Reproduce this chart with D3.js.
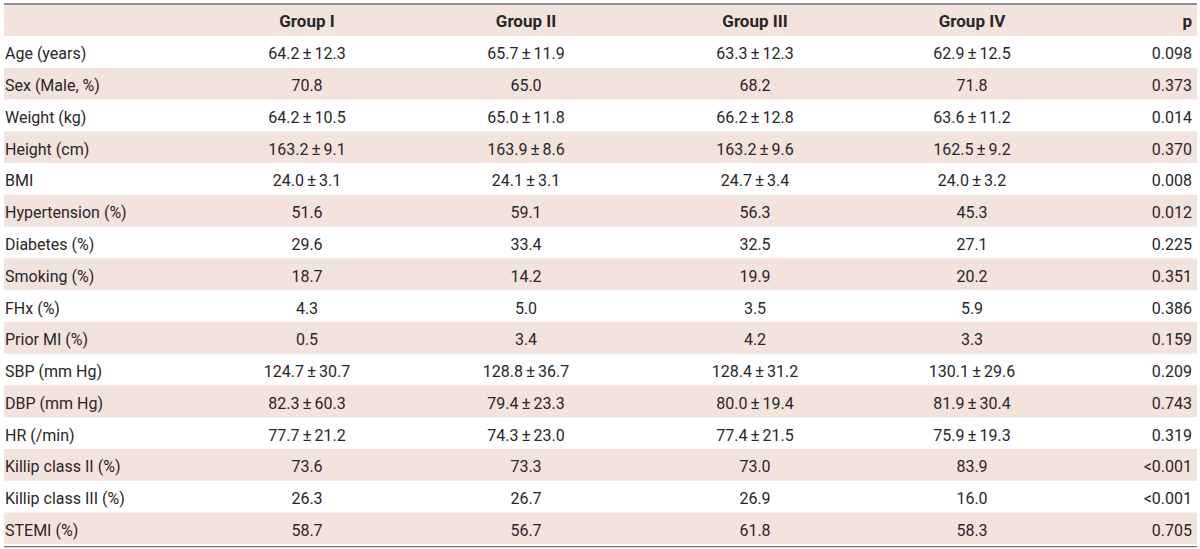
<!DOCTYPE html>
<html><head><meta charset="utf-8">
<script src="https://cdn.jsdelivr.net/npm/d3@7"></script>
<style>
html,body{margin:0;padding:0;background:#fff;}
svg{display:block;}
</style>
</head><body>
<svg id="chart" width="1200" height="549"></svg>
<script>
const headers = ["", "Group I", "Group II", "Group III", "Group IV", "p"];
const rowLabels = ["Age (years)", "Sex (Male, %)", "Weight (kg)", "Height (cm)", "BMI", "Hypertension (%)", "Diabetes (%)", "Smoking (%)", "FHx (%)", "Prior MI (%)", "SBP (mm Hg)", "DBP (mm Hg)", "HR (/min)", "Killip class II (%)", "Killip class III (%)", "STEMI (%)"];
const groupI = ["64.2±12.3", "70.8", "64.2±10.5", "163.2±9.1", "24.0±3.1", "51.6", "29.6", "18.7", "4.3", "0.5", "124.7±30.7", "82.3±60.3", "77.7±21.2", "73.6", "26.3", "58.7"];
const groupII = ["65.7±11.9", "65.0", "65.0±11.8", "163.9±8.6", "24.1±3.1", "59.1", "33.4", "14.2", "5.0", "3.4", "128.8±36.7", "79.4±23.3", "74.3±23.0", "73.3", "26.7", "56.7"];
const groupIII = ["63.3±12.3", "68.2", "66.2±12.8", "163.2±9.6", "24.7±3.4", "56.3", "32.5", "19.9", "3.5", "4.2", "128.4±31.2", "80.0±19.4", "77.4±21.5", "73.0", "26.9", "61.8"];
const groupIV = ["62.9±12.5", "71.8", "63.6±11.2", "162.5±9.2", "24.0±3.2", "45.3", "27.1", "20.2", "5.9", "3.3", "130.1±29.6", "81.9±30.4", "75.9±19.3", "83.9", "16.0", "58.3"];
const pValues = ["0.098", "0.373", "0.014", "0.370", "0.008", "0.012", "0.225", "0.351", "0.386", "0.159", "0.209", "0.743", "0.319", "<0.001", "<0.001", "0.705"];

const svg = d3.select("#chart");
const left = 4, right = 1197;
const font = "Roboto, 'Noto Sans', sans-serif";
const textColor = "#2a2627";
const pink = "#f3e3dd";
const fs = 16;

const y = d3.scaleBand().domain(d3.range(rowLabels.length)).range([36, 544.3]).padding(0);
const headerTop = 4, headerBottom = 36;

const groups = [groupI, groupII, groupIII, groupIV];
const colCenters = d3.scaleOrdinal().domain([0,1,2,3]).range([307, 526, 755, 972]);

// header band
svg.append("rect").attr("x", left).attr("y", headerTop).attr("width", right-left).attr("height", headerBottom-headerTop).attr("fill", pink);
// stripes
svg.selectAll("rect.stripe").data(d3.range(rowLabels.length).filter(i => i % 2 === 1)).join("rect")
  .attr("class","stripe").attr("x", left).attr("y", i => y(i)).attr("width", right-left).attr("height", y.bandwidth()).attr("fill", pink);

// lines
svg.append("line").attr("x1", left).attr("x2", right).attr("y1", 4).attr("y2", 4).attr("stroke", "#6d6e71").attr("stroke-width", 1.3);
svg.append("line").attr("x1", left).attr("x2", right).attr("y1", 546.7).attr("y2", 546.7).attr("stroke", "#6d6e71").attr("stroke-width", 1.3);

// header texts
const hBase = 26.5;
[1,2,3,4].forEach((h,k) => {
  svg.append("text").attr("x", colCenters(k)).attr("y", hBase).attr("text-anchor","middle")
    .attr("font-family", font).attr("font-size", 17).attr("font-weight", "bold").attr("fill", textColor).text(headers[h]);
});
svg.append("text").attr("x", 1192).attr("y", hBase).attr("text-anchor","end")
  .attr("font-family", font).attr("font-size", 17).attr("font-weight", "bold").attr("fill", textColor).text(headers[5]);

const rows = svg.selectAll("g.row").data(d3.range(rowLabels.length)).join("g").attr("class","row")
  .attr("transform", i => `translate(0,${y(i)+y.bandwidth()/2 + 7.5})`);
rows.append("text").attr("x", 5).attr("font-family", font).attr("font-size", fs).attr("fill", textColor)
  .text(i => rowLabels[i]);
groups.forEach((g,k) => {
  rows.append("text").attr("x", colCenters(k)).attr("text-anchor","middle")
    .attr("font-family", font).attr("font-size", fs).attr("fill", textColor)
    .each(function(i) {
      const parts = g[i].split("±");
      const t = d3.select(this);
      t.append("tspan").text(parts[0]);
      if (parts.length > 1) {
        t.append("tspan").attr("dx", 3).attr("font-size", 17).text("±");
        t.append("tspan").attr("dx", 3).text(parts[1]);
      }
    });
});
rows.append("text").attr("x", 1192).attr("text-anchor","end")
  .attr("font-family", font).attr("font-size", fs).attr("fill", textColor).text(i => pValues[i]);
</script>
</body></html>
